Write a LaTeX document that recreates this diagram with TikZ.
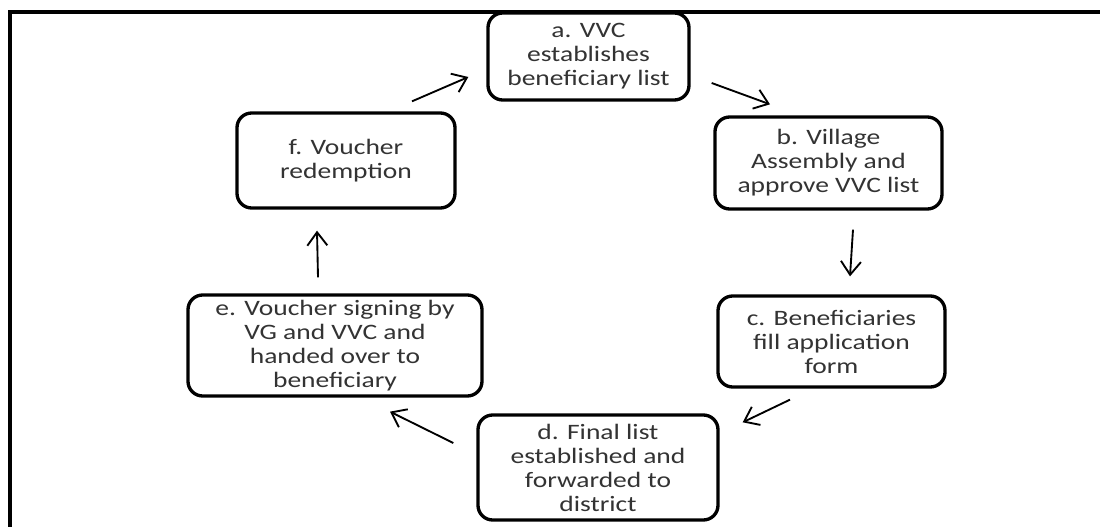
\documentclass[tikz,border=0pt]{standalone}
\usepackage{fontspec}
\setmainfont{Carlito}[FakeStretch=1.25]
\usepackage{tikz}
\usetikzlibrary{arrows.meta}
\tikzset{
    actBox/.style={rectangle, draw, fill=white, line width=2.5pt, rounded corners=11pt, align=center, inner sep=0pt, text=black!80, font=\fontsize{16.5}{18}\selectfont},
    flowArrow/.style={-{Straight Barb[length=10pt, width=15pt]}, line width=1.4pt},
    frameLine/.style={line width=2.6pt},
}
\newcommand{\drawFlow}[4]{
    \draw[flowArrow] ([shift={#2}]#1) -- ([shift={#4}]#3);
}

\begin{document}
\begin{tikzpicture}[x=0.75pt, y=-0.75pt]
    \useasboundingbox (0,0) rectangle (1100,527);
    \draw[frameLine] (10,535) -- (10,12) -- (1108,12);

    \node[actBox, minimum width=150.75pt, minimum height=65.25pt] (a) at (588.5,56.5) {a. VVC\\establishes\\beneficiary list};
    \node[actBox, minimum width=170.25pt, minimum height=69pt] (b) at (828.5,163) {b. Village\\Assembly and\\approve VVC list};
    \node[actBox, minimum width=170.25pt, minimum height=68.25pt] (c) at (831.5,341.5) {c. Beneficiaries\\fill application\\form};
    \node[actBox, minimum width=180pt, minimum height=78.75pt] (d) at (598,467.5) {d. Final list\\established and\\forwarded to\\district};
    \node[actBox, minimum width=220.5pt, minimum height=75.75pt] (e) at (335,345.5) {e. Voucher signing by\\VG and VVC and\\handed over to\\beneficiary};
    \node[actBox, minimum width=163.5pt, minimum height=71.25pt] (f) at (346,160.5) {f. Voucher\\redemption};

    \drawFlow{f.north}{(66,-10)}{a.west}{(-18,20.5)}
    \drawFlow{a.east}{(21,26.5)}{b.north}{(-58.5,-11)}
    \drawFlow{b.south}{(24.5,19)}{c.north}{(18.5,-18)}
    \drawFlow{c.south}{(-41.5,11)}{d.north east}{(23,9)}
    \drawFlow{d.west}{(-23,-24.5)}{e.south}{(55,14)}
    \drawFlow{e.north}{(-17,-16)}{f.south}{(-29,21)}

\end{tikzpicture}
\end{document}
